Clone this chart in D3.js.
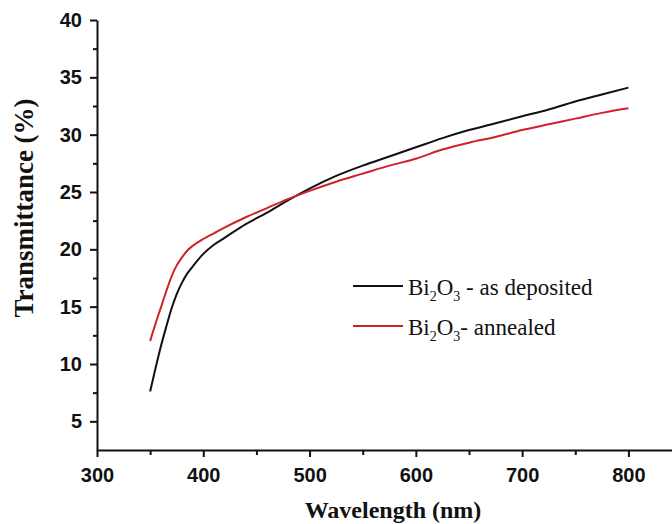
<!DOCTYPE html>
<html>
<head>
<meta charset="utf-8">
<script src="https://cdn.jsdelivr.net/npm/d3@7"></script>
<style>
  body { margin: 0; background: #ffffff; }
  .axis path, .axis line { stroke: #111; }
  .axis text { font-family: "Liberation Sans", Arial, sans-serif; font-weight: bold; fill: #111; }
</style>
</head>
<body>
<div id="chart"></div>
<script>
// Wavelength (nm)
const wavelength = [350, 355, 360, 365, 370, 375, 380, 385, 390, 400, 410, 420, 440, 460, 480, 500,
  525, 550, 575, 600, 625, 650, 675, 700, 725, 750, 775, 800];
// Transmittance (%) - as deposited
const asDeposited = [7.6, 9.6, 11.5, 13.2, 14.8, 16.1, 17.1, 17.9, 18.5, 19.6, 20.4, 21.0, 22.2, 23.2, 24.3, 25.3,
  26.4, 27.3, 28.1, 28.9, 29.7, 30.4, 31.0, 31.6, 32.2, 32.9, 33.5, 34.1];
// Transmittance (%) - annealed
const annealed = [12.0, 13.5, 14.9, 16.3, 17.6, 18.6, 19.3, 19.9, 20.3, 20.9, 21.4, 21.9, 22.8, 23.6, 24.4, 25.1,
  25.9, 26.6, 27.3, 27.9, 28.7, 29.3, 29.8, 30.4, 30.9, 31.4, 31.9, 32.3];

const xTicks = [300, 400, 500, 600, 700, 800];
const xMinorTicks = [350, 450, 550, 650, 750];
const yTicks = [5, 10, 15, 20, 25, 30, 35, 40];
const yMinorTicks = [7.5, 12.5, 17.5, 22.5, 27.5, 32.5, 37.5];

const series = [
  { label: 'as deposited', sep: ' - ', values: asDeposited, color: '#111111' },
  { label: 'annealed', sep: '- ', values: annealed, color: '#cf2229' }
];

const W = 672, H = 524;
const svg = d3.select('#chart').append('svg')
  .attr('width', W)
  .attr('height', H);

const x = d3.scaleLinear().domain([300, 841]).range([97, 672]);
const y = d3.scaleLinear().domain([2.5, 40]).range([450, 20]);

// Minor ticks first
svg.append('g')
  .attr('class', 'axis')
  .attr('transform', `translate(0,${y(2.5)})`)
  .call(d3.axisBottom(x).tickValues(xMinorTicks).tickSize(5).tickSizeOuter(0).tickFormat(''))
  .call(g => g.select('.domain').remove())
  .selectAll('line').attr('stroke-width', 2);

svg.append('g')
  .attr('class', 'axis')
  .attr('transform', `translate(${x(300)},0)`)
  .call(d3.axisLeft(y).tickValues(yMinorTicks).tickSize(4).tickSizeOuter(0).tickFormat(''))
  .call(g => g.select('.domain').remove())
  .selectAll('line').attr('stroke-width', 2);

// Major x axis
const xAxisG = svg.append('g')
  .attr('class', 'axis')
  .attr('transform', `translate(0,${y(2.5)})`)
  .call(d3.axisBottom(x).tickValues(xTicks).tickSize(7).tickSizeOuter(0).tickPadding(11));
xAxisG.select('.domain').attr('stroke-width', 2);
xAxisG.selectAll('line').attr('stroke-width', 2);
xAxisG.selectAll('text').attr('font-size', 20);

// Major y axis
const yAxisG = svg.append('g')
  .attr('class', 'axis')
  .attr('transform', `translate(${x(300)},0)`)
  .call(d3.axisLeft(y).tickValues(yTicks).tickSize(7).tickSizeOuter(0).tickPadding(8));
yAxisG.select('.domain').attr('stroke-width', 2);
yAxisG.selectAll('line').attr('stroke-width', 2);
yAxisG.selectAll('text').attr('font-size', 20);

// Curves
const line = d3.line()
  .x((d, i) => x(wavelength[i]))
  .y(d => y(d))
  .curve(d3.curveMonotoneX);

series.forEach(s => {
  svg.append('path')
    .datum(s.values)
    .attr('fill', 'none')
    .attr('stroke', s.color)
    .attr('stroke-width', 2)
    .attr('d', line);
});

// Axis titles
svg.append('text')
  .attr('x', 393)
  .attr('y', 518)
  .attr('text-anchor', 'middle')
  .attr('font-family', '"Liberation Serif", "Times New Roman", serif')
  .attr('font-weight', 'bold')
  .attr('font-size', 24)
  .attr('fill', '#111')
  .text('Wavelength (nm)');

svg.append('text')
  .attr('transform', 'translate(33,208) rotate(-90)')
  .attr('text-anchor', 'middle')
  .attr('font-family', '"Liberation Serif", "Times New Roman", serif')
  .attr('font-weight', 'bold')
  .attr('font-size', 27)
  .attr('fill', '#111')
  .text('Transmittance (%)');

// Legend
const legend = svg.append('g')
  .attr('font-family', '"Liberation Serif", "Times New Roman", serif')
  .attr('font-size', 23)
  .attr('fill', '#111');

series.forEach((s, i) => {
  const ly = 286 + i * 40;
  legend.append('line')
    .attr('x1', 353).attr('x2', 403)
    .attr('y1', ly).attr('y2', ly)
    .attr('stroke', s.color)
    .attr('stroke-width', 2);
  const t = legend.append('text')
    .attr('x', 408)
    .attr('y', ly + 9);
  t.append('tspan').text('Bi');
  t.append('tspan').attr('font-size', 14).attr('dy', 6).text('2');
  t.append('tspan').attr('dy', -6).text('O');
  t.append('tspan').attr('font-size', 14).attr('dy', 6).text('3');
  t.append('tspan').attr('dy', -6).text(s.sep + s.label);
});
</script>
</body>
</html>
